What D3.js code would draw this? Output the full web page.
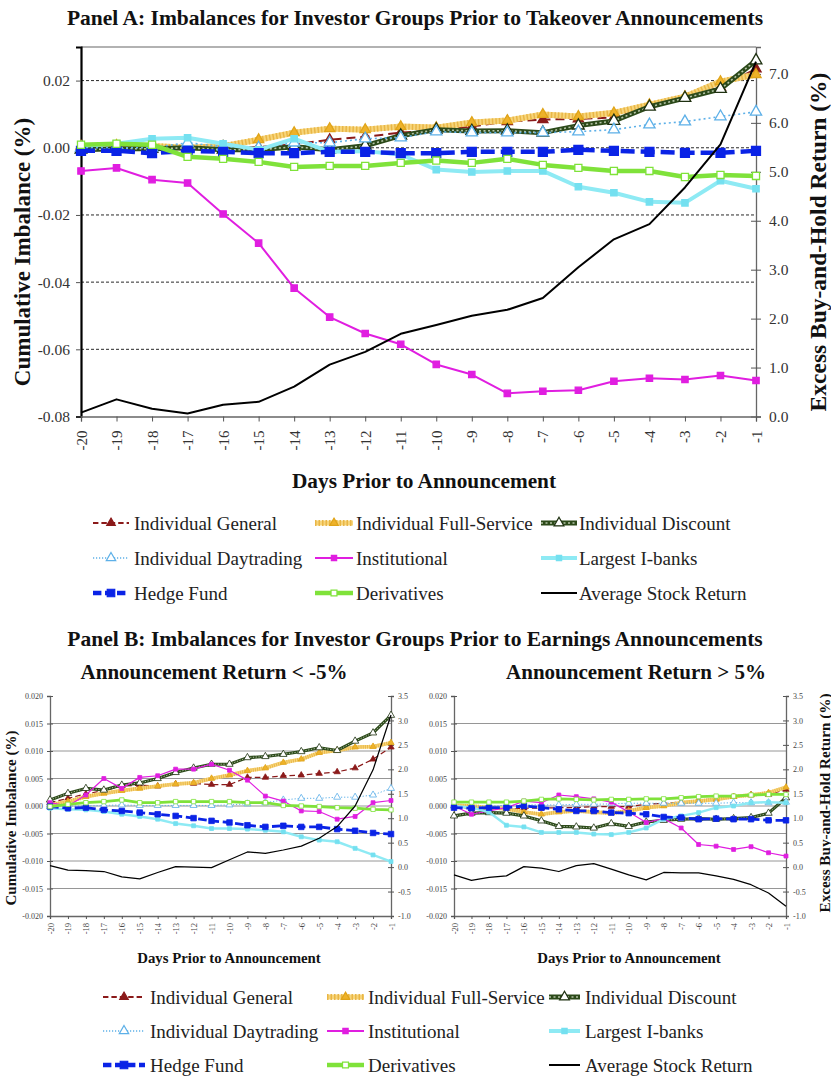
<!DOCTYPE html>
<html><head><meta charset="utf-8">
<script src="https://cdn.jsdelivr.net/npm/d3@7"></script>
<style>
body{margin:0;background:#fff}
svg{display:block}
svg text{font-family:"Liberation Serif","Times New Roman",serif}
</style>
</head><body>
<svg id="c" width="831" height="1076" font-family="Liberation Serif, serif"></svg>
<script>
// ---------------- DATA ----------------
const days = [-20,-19,-18,-17,-16,-15,-14,-13,-12,-11,-10,-9,-8,-7,-6,-5,-4,-3,-2,-1];
const seriesNames = ["Individual General","Individual Full-Service","Individual Discount",
  "Individual Daytrading","Institutional","Largest I-banks","Hedge Fund","Derivatives","Average Stock Return"];

// Panel A: takeover announcements (imbalance %, return %)
const aGeneral      = [0.0000,0.0000,-0.0005,0.0000,0.0000,0.0002,0.0010,0.0024,0.0033,0.0045,0.0052,0.0063,0.0078,0.0084,0.0086,0.0090,0.0125,0.0150,0.0180,0.0235];
const aFullService  = [0.0005,0.0007,0.0005,0.0000,0.0005,0.0024,0.0045,0.0057,0.0054,0.0063,0.0060,0.0075,0.0081,0.0099,0.0093,0.0104,0.0128,0.0152,0.0197,0.0218];
const aDiscount     = [-0.0006,-0.0003,-0.0003,0.0000,-0.0006,-0.0006,0.0003,-0.0006,0.0006,0.0036,0.0054,0.0050,0.0051,0.0045,0.0066,0.0080,0.0122,0.0148,0.0175,0.0260];
const aDaytrading   = [0.0000,0.0000,0.0000,0.0015,0.0003,0.0000,0.0015,0.0015,0.0027,0.0030,0.0048,0.0045,0.0045,0.0045,0.0048,0.0054,0.0069,0.0078,0.0093,0.0107];
const aInstitutional= [-0.0069,-0.0060,-0.0095,-0.0105,-0.0197,-0.0284,-0.0418,-0.0504,-0.0553,-0.0585,-0.0645,-0.0675,-0.0731,-0.0725,-0.0722,-0.0695,-0.0686,-0.0690,-0.0678,-0.0693];
const aIbanks       = [0.0006,0.0012,0.0027,0.0030,0.0012,-0.0006,0.0027,-0.0012,-0.0010,-0.0020,-0.0065,-0.0072,-0.0069,-0.0069,-0.0116,-0.0134,-0.0161,-0.0164,-0.0098,-0.0122];
const aHedge        = [-0.0009,-0.0009,-0.0016,-0.0009,-0.0012,-0.0016,-0.0016,-0.0012,-0.0012,-0.0016,-0.0016,-0.0012,-0.0012,-0.0012,-0.0006,-0.0009,-0.0012,-0.0015,-0.0015,-0.0009];
const aDerivatives  = [0.0009,0.0012,0.0009,-0.0027,-0.0033,-0.0042,-0.0057,-0.0054,-0.0054,-0.0045,-0.0038,-0.0045,-0.0033,-0.0051,-0.0060,-0.0069,-0.0069,-0.0087,-0.0081,-0.0084];
const aReturn       = [0.08,0.35,0.16,0.06,0.24,0.30,0.61,1.06,1.32,1.69,1.87,2.06,2.18,2.42,3.05,3.62,3.93,4.68,5.56,7.25];

// Panel B left: announcement return < -5%
const nGeneral      = [0.0006,0.0014,0.0022,0.0028,0.0036,0.0038,0.0036,0.0040,0.0041,0.0039,0.0039,0.0052,0.0052,0.0055,0.0056,0.0059,0.0062,0.0069,0.0085,0.0107];
const nFullService  = [0.0002,0.0008,0.0017,0.0023,0.0028,0.0032,0.0036,0.0040,0.0042,0.0050,0.0056,0.0064,0.0069,0.0079,0.0085,0.0097,0.0101,0.0107,0.0108,0.0115];
const nDiscount     = [0.0011,0.0023,0.0032,0.0029,0.0038,0.0042,0.0050,0.0061,0.0069,0.0076,0.0076,0.0088,0.0090,0.0094,0.0099,0.0106,0.0101,0.0118,0.0133,0.0165];
const nDaytrading   = [-0.0001,0.0000,0.0000,0.0001,0.0002,0.0001,0.0001,0.0001,0.0001,0.0001,0.0002,0.0004,0.0006,0.0011,0.0014,0.0014,0.0016,0.0016,0.0020,0.0032];
const nInstitutional= [0.0006,0.0000,0.0020,0.0050,0.0032,0.0052,0.0055,0.0067,0.0067,0.0076,0.0065,0.0047,0.0018,0.0009,-0.0009,-0.0010,-0.0024,-0.0019,0.0006,0.0010];
const nIbanks       = [-0.0004,-0.0006,-0.0007,-0.0010,-0.0015,-0.0019,-0.0024,-0.0032,-0.0036,-0.0041,-0.0041,-0.0042,-0.0044,-0.0047,-0.0056,-0.0062,-0.0065,-0.0077,-0.0089,-0.0101];
const nHedge        = [-0.0001,-0.0004,-0.0003,-0.0007,-0.0009,-0.0012,-0.0015,-0.0018,-0.0022,-0.0027,-0.0030,-0.0035,-0.0038,-0.0036,-0.0038,-0.0038,-0.0042,-0.0045,-0.0049,-0.0051];
const nDerivatives  = [-0.0001,0.0003,0.0006,0.0008,0.0011,0.0006,0.0006,0.0008,0.0008,0.0008,0.0008,0.0006,0.0006,0.0001,0.0000,-0.0001,-0.0003,-0.0004,-0.0006,-0.0007];
const nReturn       = [0.03,-0.06,-0.07,-0.09,-0.20,-0.24,-0.11,0.01,0.00,-0.01,0.15,0.31,0.28,0.35,0.43,0.59,0.83,1.25,1.99,3.11];

// Panel B right: announcement return > 5%
const pGeneral      = [0.0000,-0.0005,-0.0006,-0.0005,-0.0004,-0.0004,-0.0003,-0.0003,-0.0001,-0.0001,-0.0001,0.0003,0.0005,0.0007,0.0011,0.0013,0.0017,0.0020,0.0021,0.0030];
const pFullService  = [0.0001,0.0000,-0.0003,-0.0005,-0.0011,-0.0015,-0.0011,-0.0009,-0.0011,-0.0013,-0.0009,-0.0003,0.0000,0.0006,0.0009,0.0012,0.0017,0.0020,0.0024,0.0034];
const pDiscount     = [-0.0018,-0.0013,-0.0012,-0.0013,-0.0018,-0.0027,-0.0037,-0.0038,-0.0040,-0.0032,-0.0037,-0.0029,-0.0026,-0.0024,-0.0023,-0.0024,-0.0023,-0.0021,-0.0013,0.0015];
const pDaytrading   = [0.0000,-0.0001,0.0000,0.0001,0.0002,0.0002,0.0002,0.0003,0.0003,0.0004,0.0005,0.0005,0.0005,0.0005,0.0005,0.0005,0.0006,0.0006,0.0006,0.0007];
const pInstitutional= [0.0000,-0.0015,-0.0009,-0.0003,0.0009,0.0006,0.0020,0.0017,0.0013,0.0007,-0.0011,-0.0030,-0.0023,-0.0040,-0.0070,-0.0073,-0.0079,-0.0074,-0.0085,-0.0091];
const pIbanks       = [0.0000,-0.0003,-0.0011,-0.0035,-0.0038,-0.0048,-0.0048,-0.0048,-0.0051,-0.0052,-0.0048,-0.0040,-0.0024,-0.0018,-0.0012,-0.0003,0.0000,0.0006,0.0007,0.0006];
const pHedge        = [-0.0003,-0.0004,-0.0003,-0.0003,0.0000,-0.0003,-0.0006,-0.0009,-0.0009,-0.0012,-0.0013,-0.0015,-0.0020,-0.0021,-0.0024,-0.0023,-0.0024,-0.0024,-0.0026,-0.0026];
const pDerivatives  = [0.0007,0.0007,0.0007,0.0007,0.0009,0.0012,0.0013,0.0012,0.0011,0.0012,0.0012,0.0013,0.0013,0.0015,0.0017,0.0018,0.0018,0.0020,0.0021,0.0021];
const pReturn       = [-0.16,-0.27,-0.21,-0.18,0.01,-0.02,-0.09,0.03,0.07,-0.04,-0.16,-0.26,-0.11,-0.12,-0.12,-0.18,-0.25,-0.36,-0.53,-0.80];

const aTicksLeft  = [-0.08,-0.06,-0.04,-0.02,0.00,0.02];
const aTicksRight = [0,1,2,3,4,5,6,7];
const bTicksLeft  = [-0.020,-0.015,-0.010,-0.005,0.000,0.005,0.010,0.015,0.020];
const bTicksRight = [-1.0,-0.5,0.0,0.5,1.0,1.5,2.0,2.5,3.0,3.5];

// ---------------- STYLES ----------------
const styles = [
  {color:"#8B1A1A", width:2, dash:[9,5], marker:"triangle", fill:"#8B1A1A", mstroke:"#8B1A1A", msize:45},
  {color:"#F7D57A", width:6, overlay:{color:"#E9B646", width:6, dash:[1.5,2]}, marker:"triangle", fill:"#EEB22A", mstroke:"#E0A418", msize:45},
  {color:"#2C4A1A", width:5, overlay:{color:"#B5C4A8", width:1.6, dash:[2,2.5]}, marker:"triangle", fill:"#fff", mstroke:"#1E3010", msize:60},
  {color:"#5DB0E8", width:1.6, dash:[2,3], marker:"triangle", fill:"#fff", mstroke:"#5DB0E8", msize:55},
  {color:"#E01EE0", width:2, marker:"square", fill:"#E01EE0", mstroke:"#E01EE0", msize:40},
  {color:"#8EEAF4", width:4, marker:"square", fill:"#74E0F0", mstroke:"#74E0F0", msize:40},
  {color:"#0A23E6", width:4.5, dash:[14,6], marker:"square", fill:"#0A23E6", mstroke:"#0A23E6", msize:80},
  {color:"#7FE23A", width:4.5, marker:"square", fill:"#fff", mstroke:"#7FE23A", msize:50},
  {color:"#000", width:2, marker:null}
];

const SERIF = "'Liberation Serif','Times New Roman',serif";
const fmtLocale = d3.formatLocale({decimal:".", thousands:",", grouping:[3], currency:["$",""], minus:"-"});

const svg = d3.select("#c");

function drawSeries(g, x, y, vals, st, k) {
  const line = d3.line().x((d,i)=>x(days[i])).y(d=>y(d));
  g.append("path").datum(vals).attr("d", line).attr("fill","none")
    .attr("stroke", st.color).attr("stroke-width", st.width*k)
    .attr("stroke-linejoin","round")
    .attr("stroke-dasharray", st.dash ? st.dash.map(v=>v*k).join(",") : null);
  if (st.overlay) {
    g.append("path").datum(vals).attr("d", line).attr("fill","none")
      .attr("stroke", st.overlay.color).attr("stroke-width", st.overlay.width*k)
      .attr("stroke-dasharray", st.overlay.dash.map(v=>v*k).join(","));
  }
  if (st.marker) {
    const sym = d3.symbol().type(st.marker==="triangle"?d3.symbolTriangle:d3.symbolSquare).size(st.msize*k*k);
    g.selectAll(null).data(vals).join("path")
      .attr("d", sym)
      .attr("transform",(d,i)=>`translate(${x(days[i])},${y(d)})`)
      .attr("fill", st.fill).attr("stroke", st.mstroke).attr("stroke-width", 1.3*k);
  }
}

function drawChart(cfg, data) {
  const g = svg.append("g");
  const x = d3.scalePoint().domain(days).range([cfg.x0, cfg.x1]);
  const yL = d3.scaleLinear().domain(cfg.yLdom).range([cfg.y1, cfg.y0]);
  const yR = d3.scaleLinear().domain(cfg.yRdom).range([cfg.y1, cfg.y0]);

  g.selectAll(null).data(cfg.grid).join("line")
    .attr("x1", cfg.x0).attr("x2", cfg.x1)
    .attr("y1", d=>yL(d)).attr("y2", d=>yL(d))
    .attr("stroke", cfg.gridColor).attr("stroke-width", cfg.gridWidth)
    .attr("stroke-dasharray", cfg.gridDash);

  if (cfg.topBorder) {
    g.append("line").attr("x1",cfg.x0).attr("x2",cfg.x1).attr("y1",cfg.y0).attr("y2",cfg.y0)
      .attr("stroke","#666").attr("stroke-width",1.2);
  }

  const fL = fmtLocale.format(cfg.fmtL), fR = fmtLocale.format(cfg.fmtR);
  const axL = g.append("g").attr("transform",`translate(${cfg.x0},0)`)
    .call(d3.axisLeft(yL).tickValues(cfg.ticksL).tickFormat(fL).tickSize(cfg.tick).tickPadding(cfg.pad));
  axL.attr("font-family", SERIF);
  axL.select(".domain").attr("stroke", cfg.leftAxisColor).attr("stroke-width", cfg.leftAxisWidth);
  axL.selectAll(".tick line").attr("stroke","#555").attr("x2", -cfg.tick).attr("x1", cfg.crossL ? cfg.tick : 0);
  axL.selectAll("text").attr("font-size", cfg.tickFont).attr("fill", cfg.tickColor);

  const axR = g.append("g").attr("transform",`translate(${cfg.x1},0)`)
    .call(d3.axisRight(yR).tickValues(cfg.ticksR).tickFormat(fR).tickSize(cfg.tick).tickPadding(cfg.padR));
  axR.attr("font-family", SERIF);
  axR.select(".domain").attr("stroke","#666").attr("stroke-width",1.3);
  axR.selectAll(".tick line").attr("stroke","#555").attr("x1", -cfg.tick);
  axR.selectAll("text").attr("font-size", cfg.tickFont).attr("fill", cfg.tickColor);

  const axB = g.append("g").attr("transform",`translate(0,${cfg.y1})`)
    .call(d3.axisBottom(x).tickValues(days).tickSize(cfg.tick).tickFormat(d=>d));
  axB.attr("font-family", SERIF);
  axB.select(".domain").attr("stroke","#666").attr("stroke-width",1.3);
  axB.selectAll(".tick line").attr("stroke","#555");
  axB.selectAll("text")
    .attr("font-size", cfg.xTickFont).attr("fill", cfg.tickColor)
    .attr("text-anchor","end").attr("dy",null).attr("y",null)
    .attr("transform", `translate(0,${cfg.xLabGap}) rotate(-90)`)
    .attr("dominant-baseline","central");

  const sg = g.append("g");
  data.forEach((vals,i)=>{
    drawSeries(sg, x, i===8 ? yR : yL, vals, styles[i], cfg.k);
  });
}

function legend(cfg) {
  const g = svg.append("g");
  seriesNames.forEach((name,i)=>{
    const r = Math.floor(i/3), c = i%3;
    const y = cfg.rows[r];
    const [lx0,lx1] = cfg.lines[c];
    const st = styles[i];
    const lg = g.append("g");
    lg.append("line").attr("x1",lx0).attr("x2",lx1).attr("y1",y).attr("y2",y)
      .attr("stroke",st.color).attr("stroke-width",Math.min(st.width,5))
      .attr("stroke-dasharray", st.dash ? st.dash.map(v=>v*0.6).join(",") : null);
    if (st.overlay) lg.append("line").attr("x1",lx0).attr("x2",lx1).attr("y1",y).attr("y2",y)
      .attr("stroke",st.overlay.color).attr("stroke-width",st.overlay.width)
      .attr("stroke-dasharray", st.overlay.dash.join(","));
    if (st.marker) {
      const sym = d3.symbol().type(st.marker==="triangle"?d3.symbolTriangle:d3.symbolSquare).size(st.msize*0.7);
      lg.append("path").attr("d",sym).attr("transform",`translate(${(lx0+lx1)/2},${y})`)
        .attr("fill",st.fill).attr("stroke",st.mstroke).attr("stroke-width",1.2);
    }
    g.append("text").attr("x",cfg.texts[c]).attr("y",y).attr("dominant-baseline","central")
      .attr("font-family", SERIF)
      .attr("font-size",cfg.font).attr("fill","#222").text(name);
  });
}

function label(txt, x, y, size, rot) {
  svg.append("text").attr("x",0).attr("y",0)
    .attr("transform",`translate(${x},${y})${rot?" rotate(-90)":""}`)
    .attr("text-anchor","middle").attr("dominant-baseline","central")
    .attr("font-family", SERIF)
    .attr("font-size",size).attr("font-weight","bold").attr("fill","#111").text(txt);
}

// ---------------- PANEL A ----------------
label("Panel A: Imbalances for Investor Groups Prior to Takeover Announcements", 415, 18, 21.5);
drawChart({x0:81,x1:756,y0:47,y1:416.5,yLdom:[-0.08,0.03],yRdom:[0,7.55],
  grid:[-0.06,-0.04,-0.02,0.00,0.02], gridColor:"#111", gridWidth:0.9, gridDash:"3,2",
  topBorder:true, ticksL:aTicksLeft, ticksR:aTicksRight, fmtL:".2f", fmtR:".1f",
  tick:5, pad:6, padR:8, crossL:false, leftAxisColor:"#000", leftAxisWidth:2.2,
  tickFont:15.5, xTickFont:15, tickColor:"#333", xLabGap:14, k:1},
  [aGeneral,aFullService,aDiscount,aDaytrading,aInstitutional,aIbanks,aHedge,aDerivatives,aReturn]);
label("Cumulative Imbalance (%)", 22, 252, 23, true);
label("Excess Buy-and-Hold Return (%)", 818, 242, 23.5, true);
label("Days Prior to Announcement", 424, 481, 21.3);
legend({rows:[523,558,593], lines:[[93,129],[315,353],[541,577]], texts:[134,356,579], font:19, k:1});

// ---------------- PANEL B ----------------
label("Panel B: Imbalances for Investor Groups Prior to Earnings Announcements", 415, 639, 21.5);
label("Announcement Return < -5%", 214, 672, 21);
label("Announcement Return > 5%", 636, 672, 21);

const bCfg = {y0:696,y1:916,yLdom:[-0.02,0.02],yRdom:[-1,3.5],
  grid:[-0.015,-0.010,-0.005,0.000,0.005,0.010,0.015], gridColor:"#8a8a8a", gridWidth:0.9, gridDash:null,
  topBorder:false, ticksL:bTicksLeft, ticksR:bTicksRight, fmtL:".3f", fmtR:".1f",
  tick:3, pad:4, padR:4, crossL:true, leftAxisColor:"#666", leftAxisWidth:1.3,
  tickFont:8, xTickFont:8.5, tickColor:"#444", xLabGap:7, k:0.62};
drawChart(Object.assign({x0:50,x1:391}, bCfg),
  [nGeneral,nFullService,nDiscount,nDaytrading,nInstitutional,nIbanks,nHedge,nDerivatives,nReturn]);
drawChart(Object.assign({x0:454,x1:786}, bCfg),
  [pGeneral,pFullService,pDiscount,pDaytrading,pInstitutional,pIbanks,pHedge,pDerivatives,pReturn]);
label("Cumulative Imbalance (%)", 11, 818, 15, true);
label("Excess Buy-and-Hold Return (%)", 824, 803, 15.2, true);
label("Days Prior to Announcement", 229, 958, 14.8);
label("Days Prior to Announcement", 629, 958, 14.8);
legend({rows:[997,1031,1065], lines:[[103,145],[327,364],[549,580]], texts:[150,368,585], font:19, k:1});
</script>
</body></html>
